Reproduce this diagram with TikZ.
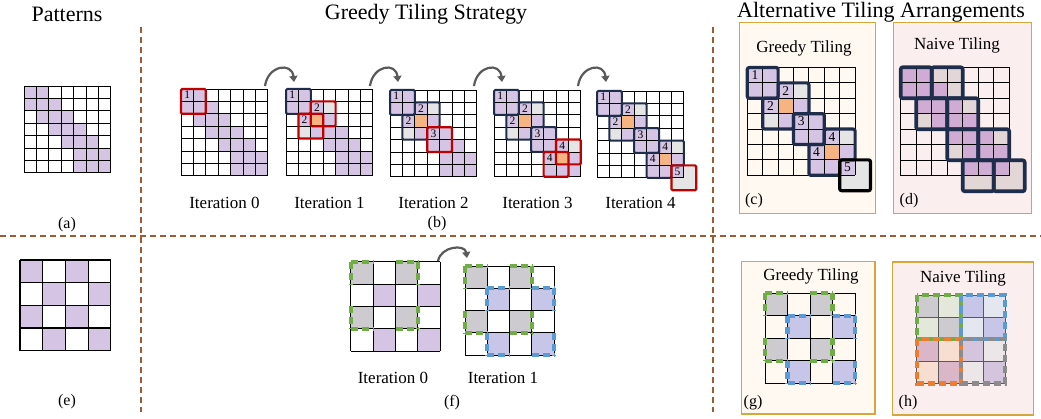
\documentclass[tikz,border=0pt]{standalone}
\usepackage{fontspec}
\setmainfont{Liberation Serif}
\usetikzlibrary{arrows.meta}

\definecolor{patpurple}{RGB}{214,196,228}
\definecolor{patmauve}{RGB}{208,172,212}
\definecolor{padgray}{RGB}{229,229,229}
\definecolor{padpink}{RGB}{226,214,214}
\definecolor{overorange}{RGB}{245,180,130}
\definecolor{tilered}{RGB}{192,0,0}
\definecolor{tilenavy}{RGB}{31,45,77}
\definecolor{divbrown}{RGB}{160,90,50}
\definecolor{panelgold}{RGB}{214,168,60}
\definecolor{creambg}{RGB}{255,249,242}
\definecolor{pinkbg}{RGB}{250,238,238}
\definecolor{dgreen}{RGB}{112,173,71}
\definecolor{dblue}{RGB}{91,155,213}
\definecolor{dorange}{RGB}{237,125,49}
\definecolor{dgray}{RGB}{140,140,140}
\definecolor{chkgray}{RGB}{205,202,208}
\definecolor{periwinkle}{RGB}{200,198,232}
\definecolor{arrowgray}{RGB}{90,90,90}
\definecolor{hgreen}{RGB}{228,232,218}
\definecolor{hlight}{RGB}{228,230,240}
\definecolor{hmauve}{RGB}{218,182,200}
\definecolor{hpeach}{RGB}{247,222,208}
\definecolor{hlav}{RGB}{213,196,222}
\definecolor{hgrayl}{RGB}{237,230,232}

\tikzset{
  gridline/.style={black, line width=0.9pt},
  redtile/.style={draw=tilered, line width=2.2pt, rounded corners=1.2pt},
  navytile/.style={draw=tilenavy, line width=2pt, rounded corners=1.2pt},
  navythick/.style={draw=tilenavy, line width=3.2pt, rounded corners=2pt},
  blacktile/.style={draw=black, line width=3.2pt, rounded corners=2pt},
  num/.style={font=\fontsize{11.5}{11.5}\selectfont, inner sep=0pt},
  bignum/.style={font=\fontsize{13.5}{13.5}\selectfont, inner sep=0pt},
  title/.style={font=\fontsize{22}{24}\selectfont, inner sep=0pt},
  caption/.style={font=\fontsize{17}{19}\selectfont, inner sep=0pt},
  sublabel/.style={font=\fontsize{16}{18}\selectfont, inner sep=0pt},
  divider/.style={draw=divbrown, line width=1.5pt, dash pattern=on 6pt off 4pt},
  panel/.style={draw=panelgold, line width=1.2pt},
  dtile/.style={line width=4.2pt, dash pattern=on 7pt off 4pt},
  flowarrow/.style={draw=arrowgray, line width=2.2pt, -{Triangle[length=6pt,width=8pt]}}
}

% pattern cells of the 7x7 band matrix (row/col)
\newcommand{\patcells}[1]{%
  \foreach \pr/\pc in {0/0,0/1,1/0,1/1,1/2,2/1,2/2,2/3,3/2,3/3,3/4,4/3,4/4,4/5,5/4,5/5,5/6,6/4,6/5,6/6}
    {\fill[#1] (\pc,\pr) rectangle ++(1,1);}}
\newcommand{\gridlines}[2]{%
  \foreach \gi in {0,...,#1}{\draw[#2] (\gi,0) -- (\gi,#1); \draw[#2] (0,\gi) -- (#1,\gi);}}
% padding / overlap cells of the greedy tiles
\newcommand{\padtwo}{\fill[padgray] (3,1) rectangle ++(1,1); \fill[padgray] (1,3) rectangle ++(1,1);
  \fill[overorange] (2,2) rectangle ++(1,1);}
\newcommand{\padfour}{\fill[padgray] (6,4) rectangle ++(1,1); \fill[overorange] (5,5) rectangle ++(1,1);}
\newcommand{\padfive}{\fill[padgray] (7,6) rectangle (8,8); \fill[padgray] (6,7) rectangle (7,8);}
% merged outlines of tile pairs
\newcommand{\tiletwo}{(2,1) -- (4,1) -- (4,3) -- (3,3) -- (3,4) -- (1,4) -- (1,2) -- (2,2) -- cycle}
\newcommand{\tilefour}{(5,4) -- (7,4) -- (7,6) -- (6,6) -- (6,7) -- (4,7) -- (4,5) -- (5,5) -- cycle}
% dilated 2x2 tile on a 4x4 grid, corner cell (#1,#2)
\newcommand{\dilated}[3]{%
  \foreach \dx in {0,2}{
    \draw[dtile,#3] (#1+\dx,#2) -- (#1+\dx+1,#2);
    \draw[dtile,#3] (#1+\dx,#2+3) -- (#1+\dx+1,#2+3);
    \draw[dtile,#3] (#1,#2+\dx) -- (#1,#2+\dx+1);
    \draw[dtile,#3] (#1+3,#2+\dx) -- (#1+3,#2+\dx+1);}}

\begin{document}
\begin{tikzpicture}[x=1pt,y=-1pt]
\useasboundingbox (0,0) rectangle (1041,419);
\fill[white] (0,0) rectangle (1041,419);

% dividers
\draw[divider] (141,27) -- (141,412);
\draw[divider] (713,27) -- (713,412);
\draw[divider] (0,236) -- (1041,236);

% titles
\node[title] (tpat) at (67,14) {Patterns};
\node[title] (tgreedy) at (426,14) {Greedy Tiling Strategy};
\node[title] (talt) at (881,12) {Alternative Tiling Arrangements};

% (a) band pattern
\begin{scope}[xshift=24pt,yshift=-86pt,x=12.4pt,y=-12.4pt]
  \patcells{patpurple}
  \gridlines{7}{gridline}
\end{scope}
\node[sublabel] (la) at (67,225) {(a)};

% (b) iterations of the greedy strategy
\begin{scope}[xshift=181pt,yshift=-89pt,x=12.4pt,y=-12.4pt]
  \patcells{patpurple}
  \gridlines{7}{gridline}
  \draw[redtile] (0,0) rectangle (2,2);
  \node[num] (b0n1) at (0.5,0.5) {1};
\end{scope}
\begin{scope}[xshift=286pt,yshift=-89pt,x=12.4pt,y=-12.4pt]
  \patcells{patpurple}
  \padtwo
  \gridlines{7}{gridline}
  \draw[navytile] (0,0) rectangle (2,2);
  \draw[redtile] (2,1) rectangle (4,3);
  \draw[redtile] (1,2) rectangle (3,4);
  \node[num] (b1n1) at (0.5,0.5) {1};
  \node[num] (b1n2a) at (2.5,1.5) {2};
  \node[num] (b1n2b) at (1.5,2.5) {2};
\end{scope}
\begin{scope}[xshift=390pt,yshift=-90pt,x=12.4pt,y=-12.4pt]
  \patcells{patpurple}
  \padtwo
  \gridlines{7}{gridline}
  \draw[navytile] (0,0) rectangle (2,2);
  \draw[navytile] \tiletwo;
  \draw[redtile] (3,3) rectangle (5,5);
  \node[num] (b2n1) at (0.5,0.5) {1};
  \node[num] (b2n2a) at (2.5,1.5) {2};
  \node[num] (b2n2b) at (1.5,2.5) {2};
  \node[num] (b2n3) at (3.5,3.5) {3};
\end{scope}
\begin{scope}[xshift=494pt,yshift=-90pt,x=12.4pt,y=-12.4pt]
  \patcells{patpurple}
  \padtwo \padfour
  \gridlines{7}{gridline}
  \draw[navytile] (0,0) rectangle (2,2);
  \draw[navytile] \tiletwo;
  \draw[navytile] (3,3) rectangle (5,5);
  \draw[redtile] (5,4) rectangle (7,6);
  \draw[redtile] (4,5) rectangle (6,7);
  \node[num] (b3n1) at (0.5,0.5) {1};
  \node[num] (b3n2a) at (2.5,1.5) {2};
  \node[num] (b3n2b) at (1.5,2.5) {2};
  \node[num] (b3n3) at (3.5,3.5) {3};
  \node[num] (b3n4a) at (5.5,4.5) {4};
  \node[num] (b3n4b) at (4.5,5.5) {4};
\end{scope}
\begin{scope}[xshift=597pt,yshift=-91pt,x=12.4pt,y=-12.4pt]
  \patcells{patpurple}
  \padtwo \padfour \padfive
  \gridlines{7}{gridline}
  \draw[navytile] (0,0) rectangle (2,2);
  \draw[navytile] \tiletwo;
  \draw[navytile] (3,3) rectangle (5,5);
  \draw[navytile] \tilefour;
  \draw[redtile] (6,6) rectangle (8,8);
  \node[num] (b4n1) at (0.5,0.5) {1};
  \node[num] (b4n2a) at (2.5,1.5) {2};
  \node[num] (b4n2b) at (1.5,2.5) {2};
  \node[num] (b4n3) at (3.5,3.5) {3};
  \node[num] (b4n4a) at (5.5,4.5) {4};
  \node[num] (b4n4b) at (4.5,5.5) {4};
  \node[num] (b4n5) at (6.5,6.5) {5};
\end{scope}

\foreach \k/\gx in {0/181,1/286,2/390,3/494,4/597}
  \node[caption] (it\k) at (\gx+43.5,203) {Iteration \k};
\node[sublabel] (lb) at (437,224) {(b)};

% arrows between iterations
\foreach \k/\sx/\ex in {0/265/294,1/370/398,2/474/502,3/578/606}{
  \coordinate (as\k) at (\sx,86);
  \coordinate (ae\k) at (\ex,82);
  \draw[flowarrow] (as\k) .. controls +(3,-21) and +(-2,-20) .. (ae\k);
}

% (c) greedy tiling panel
\draw[panel, fill=creambg] (739.3,22.7) rectangle (875.7,213.3);
\node[caption] (tc) at (804,48) {Greedy Tiling};
\begin{scope}[xshift=747.3pt,yshift=-67.5pt,x=15.4pt,y=-15.4pt]
  \patcells{patpurple}
  \padtwo \padfour \padfive
  \gridlines{7}{gridline}
  \draw[navythick] (0,0) rectangle (2,2);
  \draw[navythick] \tiletwo;
  \draw[navythick] (3,3) rectangle (5,5);
  \draw[navythick] \tilefour;
  \draw[blacktile] (6,6) rectangle (8,8);
  \node[bignum] (cn1) at (0.5,0.5) {1};
  \node[bignum] (cn2a) at (2.5,1.5) {2};
  \node[bignum] (cn2b) at (1.5,2.5) {2};
  \node[bignum] (cn3) at (3.5,3.5) {3};
  \node[bignum] (cn4a) at (5.5,4.5) {4};
  \node[bignum] (cn4b) at (4.5,5.5) {4};
  \node[bignum] (cn5) at (6.5,6.5) {5};
\end{scope}
\node[sublabel] (lc) at (754,201) {(c)};

% (d) naive tiling panel
\draw[panel, fill=pinkbg] (893.3,22.5) rectangle (1031.7,213.3);
\node[caption] (td) at (957,45) {Naive Tiling};
\begin{scope}[xshift=900.7pt,yshift=-67.3pt,x=15.5pt,y=-15.5pt]
  \patcells{patmauve}
  \foreach \qc/\qr in {2/0,3/0,3/1,4/2,1/3,6/4,3/5}
    {\fill[padpink] (\qc,\qr) rectangle ++(1,1);}
  \fill[padpink] (7,6) rectangle (8,8);
  \fill[padpink] (4,7) rectangle (7,8);
  \gridlines{7}{gridline}
  \foreach \qc/\qr in {0/0,2/0,1/2,3/2,3/4,5/4,4/6,6/6}
    {\draw[navythick, line width=3.6pt] (\qc,\qr) rectangle ++(2,2);}
\end{scope}
\node[sublabel] (ld) at (909,201) {(d)};

% (e) checkerboard pattern
\begin{scope}[xshift=20pt,yshift=-260pt,x=22.7pt,y=-22.7pt]
  \foreach \qc/\qr in {0/0,2/0,1/1,3/1,0/2,2/2,1/3,3/3}
    {\fill[patpurple] (\qc,\qr) rectangle ++(1,1);}
  \gridlines{4}{gridline, line width=1.2pt}
\end{scope}
\node[sublabel] (le) at (67,402) {(e)};

% (f) dilated greedy tiling
\begin{scope}[xshift=350.7pt,yshift=-261.7pt,x=22.4pt,y=-22.4pt]
  \foreach \qc/\qr in {0/0,2/0,0/2,2/2}{\fill[chkgray] (\qc,\qr) rectangle ++(1,1);}
  \foreach \qc/\qr in {1/1,3/1,1/3,3/3}{\fill[patpurple] (\qc,\qr) rectangle ++(1,1);}
  \gridlines{4}{gridline}
  \dilated{0}{0}{dgreen}
\end{scope}
\begin{scope}[xshift=465pt,yshift=-266pt,x=22.3pt,y=-22.3pt]
  \foreach \qc/\qr in {0/0,2/0,0/2,2/2}{\fill[chkgray] (\qc,\qr) rectangle ++(1,1);}
  \foreach \qc/\qr in {1/1,3/1,1/3,3/3}{\fill[periwinkle] (\qc,\qr) rectangle ++(1,1);}
  \gridlines{4}{gridline}
  \dilated{0}{0}{dgreen}
  \dilated{1}{1}{dblue}
\end{scope}
\coordinate (fs) at (438,261);
\coordinate (fe) at (467,258);
\draw[flowarrow] (fs) .. controls +(3,-15) and +(-2,-14) .. (fe);
\node[caption] (f0) at (393,378) {Iteration 0};
\node[caption] (f1) at (503,378) {Iteration 1};
\node[sublabel] (lf) at (452,403) {(f)};

% (g) greedy tiling of the checkerboard
\draw[panel, fill=creambg] (741.7,261.7) rectangle (875,414);
\node[caption] (tg) at (811,276) {Greedy Tiling};
\begin{scope}[xshift=765pt,yshift=-293.3pt,x=22.5pt,y=-22.5pt]
  \foreach \qc/\qr in {0/0,2/0,0/2,2/2}{\fill[chkgray] (\qc,\qr) rectangle ++(1,1);}
  \foreach \qc/\qr in {1/1,3/1,1/3,3/3}{\fill[periwinkle] (\qc,\qr) rectangle ++(1,1);}
  \gridlines{4}{gridline}
  \dilated{0}{0}{dgreen}
  \dilated{1}{1}{dblue}
\end{scope}
\node[sublabel] (lg) at (753,403) {(g)};

% (h) naive tiling of the checkerboard
\draw[panel, fill=pinkbg] (892.7,262) rectangle (1033.3,415);
\node[caption] (th) at (963,278) {Naive Tiling};
\begin{scope}[xshift=916.7pt,yshift=-295pt,x=22.1pt,y=-22.1pt]
  \foreach \qc/\qr/\qcol in {0/0/chkgray,1/1/chkgray,1/0/hgreen,0/1/hgreen,
      2/0/periwinkle,3/1/periwinkle,3/0/hlight,2/1/hlight,
      0/2/hmauve,1/3/hmauve,1/2/hpeach,0/3/hpeach,
      2/2/hlav,3/3/hlav,3/2/hgrayl,2/3/hgrayl}
    {\fill[\qcol] (\qc,\qr) rectangle ++(1,1);}
  \gridlines{4}{gray!70!black, line width=0.9pt}
  \draw[dtile,dgreen] (0,0) rectangle (2,2);
  \draw[dtile,dblue] (2,0) rectangle (4,2);
  \draw[dtile,dorange] (0,2) rectangle (2,4);
  \draw[dtile,dgray] (2,2) rectangle (4,4);
\end{scope}
\node[sublabel] (lh) at (908,403) {(h)};
\end{tikzpicture}
\end{document}
